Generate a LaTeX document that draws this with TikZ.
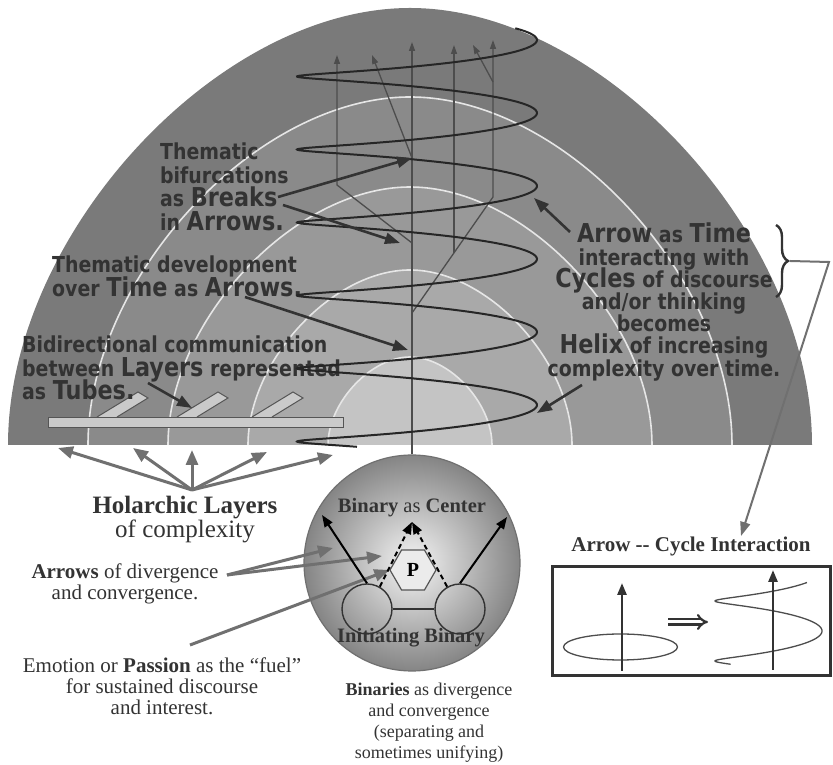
\documentclass[tikz,border=0pt]{standalone}
\usepackage{fontspec}
\setmainfont{Liberation Serif}
\newfontfamily\domefont{DejaVu Sans}[FakeStretch=0.86]
\usepackage{tikz}
\usetikzlibrary{positioning, arrows.meta, shapes.geometric, decorations.pathreplacing}

\definecolor{bandA}{HTML}{7A7A7A}
\definecolor{bandB}{HTML}{8A8A8A}
\definecolor{bandC}{HTML}{999999}
\definecolor{bandD}{HTML}{A9A9A9}
\definecolor{bandE}{HTML}{C4C4C4}
\definecolor{seamwhite}{HTML}{E6E6E6}
\definecolor{ink}{HTML}{333333}
\definecolor{helixgray}{HTML}{262626}
\definecolor{linegray}{HTML}{4D4D4D}
\definecolor{arrowgray}{HTML}{707070}
\definecolor{tubefill}{HTML}{CACACA}
\definecolor{tubeline}{HTML}{555555}

\newcommand{\bw}[1]{{\fontsize{26}{23.5}\selectfont #1}}
% half arch of a layer: x radius, height
\newcommand{\arch}[2]{(410-#1,320) .. controls (410-#1,320+0.48*#2) and (410-0.48*#1,320+#2) .. (410,320+#2)
    .. controls (410+0.48*#1,320+#2) and (410+#1,320+0.48*#2) .. (410+#1,320)}

\begin{document}
\begin{tikzpicture}[x=1pt, y=1pt,
    dometext/.style={font={\domefont\bfseries\fontsize{22}{23.5}\selectfont\lineskiplimit=-30pt}, text=ink, inner sep=0pt},
    note/.style={font={\fontsize{21}{21}\selectfont\lineskiplimit=-30pt}, text=ink, inner sep=0pt, align=center},
    seam/.style={draw=seamwhite, line width=1.6pt},
    tube/.style={fill=tubefill, draw=tubeline, line width=1pt},
    timearrow/.style={draw=linegray, line width=1.3pt, -{Triangle[length=9pt, width=6pt]}},
    pointer/.style={draw=ink, line width=2.6pt, -{Triangle[length=15pt, width=11pt]}},
    grayarrow/.style={draw=arrowgray, line width=3pt, -{Triangle[length=15pt, width=12pt]}},
    helix/.style={draw=helixgray, line width=2pt},
    binarrow/.style={draw=black, line width=2pt, -{Triangle[length=12pt, width=9pt]}},
    boxarrow/.style={draw=ink, line width=2.6pt, -{Triangle[length=12pt, width=9pt]}},
    loopline/.style={draw=linegray, line width=1.3pt}
]
\path[use as bounding box, fill=white] (0,0) rectangle (833,765);

% Holarchic layers (dome)
\fill[bandA] \arch{402}{437} -- cycle;
\fill[bandB] \arch{322}{348} -- cycle;
\fill[bandC] \arch{242}{258} -- cycle;
\fill[bandD] \arch{162}{175} -- cycle;
\fill[bandE] \arch{82}{88} -- cycle;
\draw[seam] \arch{322}{348};
\draw[seam] \arch{242}{258};
\draw[seam] \arch{162}{175};
\draw[seam] \arch{82}{88};

% Tubes
\draw[tube] (48,337) rectangle (343,347);
\draw[tube] (97,348) -- (138,373) -- (148,367) -- (117,348);
\draw[tube] (177,348) -- (218,373) -- (228,367) -- (197,348);
\draw[tube] (252,348) -- (293,373) -- (303,367) -- (272,348);

% Sphere of binaries
\node[circle, minimum size=216, inner sep=0pt, draw=arrowgray, line width=1.2pt,
      inner color=white!96!black, outer color=black!48] (sphere) at (412,202) {};
\node[circle, minimum size=50, draw=ink, line width=1.4pt] (binL) at (367,156) {};
\node[circle, minimum size=50, draw=ink, line width=1.4pt] (binR) at (460,156) {};
\node[regular polygon, regular polygon sides=6, minimum size=46, inner sep=0pt, draw=tubeline,
      fill=white!92!black, line width=1.2pt, font=\bfseries\fontsize{20}{20}\selectfont] (pnode) at (413,195) {P};
\node[font=\bfseries\fontsize{20.5}{21}\selectfont, text=ink, anchor=base] (centerlbl) at (412,252) {Binary {\mdseries as} Center};
\node[font=\bfseries\fontsize{20.5}{21}\selectfont, text=ink, anchor=base] (initlbl) at (411,122) {Initiating Binary};

% Arrows as time
\coordinate (apex) at (412,243);
\coordinate (b1) at (412,522);
\coordinate (b2) at (412,607);
\coordinate (b3) at (412,452);
\coordinate (b4) at (454,512);
\coordinate (b5) at (493,683);
\draw[timearrow] (sphere.north) -- (412,723);
\draw[timearrow] (b1) -- (337,580) -- (337,710);
\draw[timearrow] (b2) -- (372,710);
\draw[timearrow] (b3) -- (493,568) -- (493,725);
\draw[timearrow] (b4) -- (454,720);
\draw[timearrow] (b5) -- (473,720);

% Text inside the dome
\node[dometext, align=left, anchor=north west] (bifurc) at (160,622)
    {Thematic\\bifurcations\\as \bw{Breaks}\\in \bw{Arrows.}};
\node[dometext, align=left, anchor=north west] (develop) at (52,509)
    {Thematic development\\over \bw{Time} as \bw{Arrows.}};
\node[dometext, align=left, anchor=north west] (bidir) at (22,429)
    {Bidirectional communication\\between \bw{Layers} represented\\as \bw{Tubes.}};
\node[dometext, font={\domefont\bfseries\fontsize{22}{22.2}\selectfont\lineskiplimit=-30pt}, align=center, anchor=north] (arrowtime) at (664,542)
    {\bw{Arrow} as \bw{Time}\\interacting with\\\bw{Cycles} of discourse\\and/or thinking\\becomes\\\bw{Helix} of increasing\\complexity over time.};

% Helix of cycles
\draw[helix] plot[domain=-35:2040, samples=420, variable=\t]
    ({417+120*cos(\t)}, {725-0.2028*\t-8*sin(\t)});

% Pointers from the dome text
\coordinate (breaksA) at (278,568);
\coordinate (breaksB) at (283,560);
\coordinate (timeA) at (245,468);
\coordinate (layersA) at (148,382);
\coordinate (arrowA) at (570,533);
\coordinate (helixA) at (582,380);
\draw[pointer] (breaksA) -- (b2);
\draw[pointer] (breaksB) -- (400,522);
\draw[pointer] (timeA) -- (408,415);
\draw[pointer] (layersA) -- (192,357);
\draw[pointer] (arrowA) -- (534,567);
\draw[pointer] (helixA) -- (537,352);

% Brace and pointer to the inset
\draw[decorate, decoration={brace, amplitude=12pt}, draw=ink, line width=2.4pt] (776,540) -- (776,468);
\coordinate (bracetip) at (790,504);

% Labels below the dome
\node[note, font={\fontsize{25}{24}\selectfont\lineskiplimit=-30pt}, anchor=north] (holarchic) at (185,269)
    {\textbf{Holarchic Layers}\\of complexity};
\node[note, anchor=north] (arrowsdiv) at (125,201) {\textbf{Arrows} of divergence\\and convergence.};
\node[note, anchor=north] (passion) at (162,107)
    {Emotion or \textbf{Passion} as the ``fuel''\\for sustained discourse\\and interest.};
\node[note, font={\fontsize{18}{21}\selectfont\lineskiplimit=-30pt}, below=11pt of sphere, xshift=17pt] (binaries)
    {\textbf{Binaries} as divergence\\and convergence\\(separating and\\sometimes unifying)};

% Holarchic arrows
\coordinate (fan) at ([xshift=7pt, yshift=6pt]holarchic.north);
\draw[grayarrow] (fan) -- (58,317);
\draw[grayarrow] (fan) -- (133,317);
\draw[grayarrow] (fan) -- (192,315);
\draw[grayarrow] (fan) -- (267,313);
\draw[grayarrow] (fan) -- (333,310);

% Arrows into the sphere
\coordinate (divA) at (227,190);
\coordinate (fuelA) at (190,120);
\draw[grayarrow] (divA) -- (333,217);
\draw[grayarrow] (divA) -- (382,209);
\draw[grayarrow] (fuelA) -- (pnode.west);
\draw[line width=2pt, draw=ink] (binL) -- (binR);
\draw[binarrow] (binL.north) -- (322,250);
\draw[binarrow] (binR.north) -- (507,248);
\draw[binarrow, dash pattern=on 5pt off 3.5pt] (binL.60) -- (apex);
\draw[binarrow, dash pattern=on 5pt off 3.5pt] (binR.120) -- (apex);

% Inset: Arrow -- Cycle Interaction
\node[draw=ink, line width=3pt, minimum width=278, minimum height=109, inner sep=0pt] (cbox) at (691,143.5) {};
\node[font=\bfseries\fontsize{21}{21}\selectfont, text=ink, inner sep=0pt, above=9pt of cbox] (cyclehead)
    {Arrow -{}- Cycle Interaction};
\coordinate (cycletip) at (741,229);
\draw[draw=arrowgray, line width=2pt, -{Triangle[length=14pt, width=10pt]}] (bracetip) -- (829,503) -- (cycletip);
\draw[loopline] (620.5,118) ellipse[x radius=57, y radius=13];
\draw[boxarrow] (622,94) -- (622,182);
\draw[draw=ink, double, double distance=3pt, line width=2.2pt, -{Implies}] (668,143) -- (708,143);
\draw[loopline] plot[domain=44:585, samples=150, variable=\t]
    ({768.5+53.5*cos(\t)}, {164-(\t-180)/6-6*sin(\t)});
\draw[boxarrow] (773,95) -- (773,195);

\end{tikzpicture}
\end{document}
